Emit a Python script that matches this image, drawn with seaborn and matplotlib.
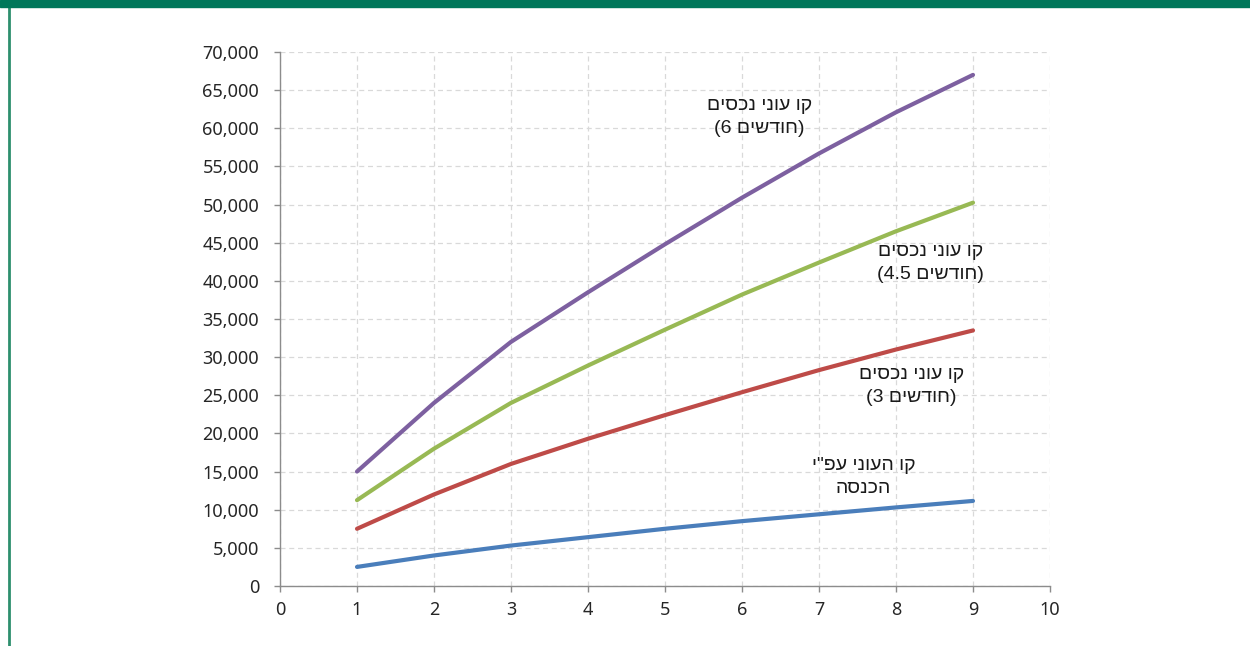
import matplotlib
matplotlib.use("Agg")
import matplotlib.pyplot as plt
from matplotlib.patches import Rectangle
from matplotlib.lines import Line2D
from matplotlib.ticker import FuncFormatter, MultipleLocator
import pandas as pd
import seaborn as sns

# Years on the horizontal axis
years = [1, 2, 3, 4, 5, 6, 7, 8, 9]

# Poverty lines (NIS)
income_line = [2500, 4000, 5300, 6400, 7500, 8500, 9400, 10300, 11150]
assets_3m = [7500, 12000, 16000, 19300, 22400, 25400, 28300, 31000, 33500]
assets_4_5m = [11250, 18000, 24000, 28900, 33600, 38200, 42400, 46500, 50250]
assets_6m = [15000, 24000, 32000, 38500, 44800, 50900, 56700, 62100, 67000]

series_names = ["income", "assets_3", "assets_4_5", "assets_6"]
series_colors = ["#4a7ebb", "#be4b48", "#98b954", "#7d60a0"]

# Hebrew labels, stored in visual (left-to-right drawing) order
label_texts = [
    "י\"פע ינועה וק\n" + "הסנכה",
    "םיסכנ ינוע וק\n(3 " + "םישדוח" + ")",
    "םיסכנ ינוע וק\n(4.5 " + "םישדוח" + ")",
    "םיסכנ ינוע וק\n(6 " + "םישדוח" + ")",
]
label_x = [7.58, 8.2, 8.45, 6.23]
label_y = [14300, 26200, 42300, 61500]

sns.set_style("white")
plt.rcParams["font.family"] = ["Noto Sans", "DejaVu Sans"]

df = pd.DataFrame({
    "year": years * 4,
    "value": income_line + assets_3m + assets_4_5m + assets_6m,
    "series": sum([[n] * len(years) for n in series_names], []),
})

fig = plt.figure(figsize=(12.5, 6.46), dpi=100)
ax = fig.add_axes([0.224, 0.0929, 0.616, 0.8266])

sns.lineplot(data=df, x="year", y="value", hue="series",
             hue_order=series_names, palette=series_colors,
             linewidth=3.0, legend=False, ax=ax)
for ln in ax.get_lines():
    ln.set_solid_joinstyle("round")
    ln.set_solid_capstyle("round")

ax.set_xlim(0, 10)
ax.set_ylim(0, 70000)
ax.xaxis.set_major_locator(MultipleLocator(1))
ax.yaxis.set_major_locator(MultipleLocator(5000))
ax.yaxis.set_major_formatter(FuncFormatter(lambda v, p: f"{int(v):,}"))
ax.set_xlabel("")
ax.set_ylabel("")

ax.grid(True, linestyle=(0, (4, 3)), color="#d9d9d9", linewidth=0.9)
ax.set_axisbelow(True)
for side in ["top", "right"]:
    ax.spines[side].set_visible(False)
for side in ["left", "bottom"]:
    ax.spines[side].set_color("#8c8c8c")
    ax.spines[side].set_linewidth(1.0)

ax.tick_params(axis="both", direction="out", length=4, width=1,
               color="#8c8c8c", labelsize=13, labelcolor="#262626")
ax.tick_params(axis="y", pad=11, left=True)
ax.tick_params(axis="x", pad=7, bottom=True)

for txt, x, y in zip(label_texts, label_x, label_y):
    ax.text(x, y, txt, ha="center", va="center", fontsize=14,
            family=["Liberation Sans", "DejaVu Sans"], color="#1a1a1a",
            linespacing=1.45)

# Frame decoration: top band and left rule
fig.patches.append(Rectangle((0, 1 - 7 / 646), 1, 7 / 646,
                             transform=fig.transFigure, color="#00775a",
                             zorder=10))
fig.lines.append(Line2D([9 / 1250, 9 / 1250], [0, 1 - 7 / 646],
                        transform=fig.transFigure, color="#2e8f6e",
                        linewidth=2.0))

fig.savefig("out.png", dpi=100)
